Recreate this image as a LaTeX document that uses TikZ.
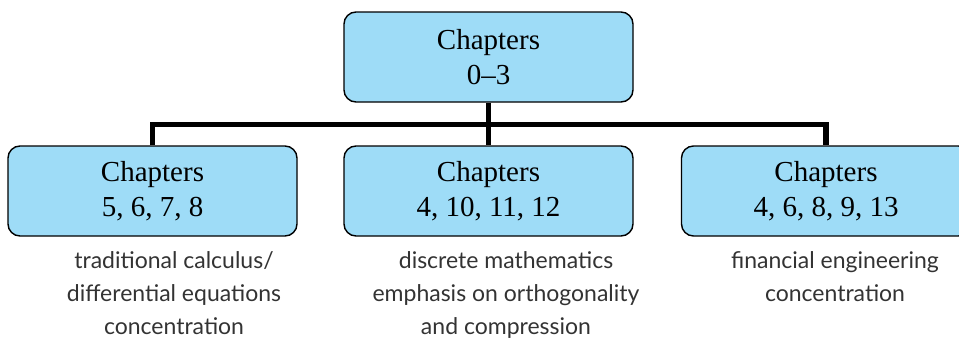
\documentclass[tikz,border=0pt]{standalone}
\usepackage{fontspec}
\setmainfont{Liberation Serif}
\newfontfamily\notefont{Lato}
\usetikzlibrary{positioning, calc}
\definecolor{boxfill}{HTML}{9EDCF7}
\definecolor{notegray}{HTML}{333333}

\tikzset{
  chapbox/.style={draw=black, line width=0.7pt, fill=boxfill, rounded corners=6pt,
    minimum width=144.5pt, minimum height=45pt, align=center,
    font=\fontsize{14.5}{17.5}\selectfont},
  note/.style={align=center, inner sep=0pt, anchor=north, text=notegray,
    font=\notefont\fontsize{11.5}{16.5}\selectfont},
  link/.style={line width=2.8pt}
}

\begin{document}
\begin{tikzpicture}[x=0.5pt, y=-0.5pt]
  \useasboundingbox (0,0) rectangle (959,338);
  % boxes
  \node[chapbox] (top) at (488.5,57) {Chapters\\0--3};
  \node[chapbox] (calc) at (152.5,191) {Chapters\\5, 6, 7, 8};
  \node[chapbox] (disc) at (488.5,191) {Chapters\\4, 10, 11, 12};
  \node[chapbox] (fin) at (826,191) {Chapters\\4, 6, 8, 9, 13};
  % connectors
  \coordinate (bus) at (488.5,124.5);
  \draw[link] (top.south) -- (disc.north);
  \draw[link] (calc.north) |- (bus) -| (fin.north);
  % notes
  \node[note] (calcnote) at (174,251) {traditional calculus/\\differential equations\\concentration};
  \node[note] (discnote) at (506,251) {discrete mathematics\\emphasis on orthogonality\\and compression};
  \node[note] (finnote) at (835,251) {financial engineering\\concentration};
\end{tikzpicture}
\end{document}
